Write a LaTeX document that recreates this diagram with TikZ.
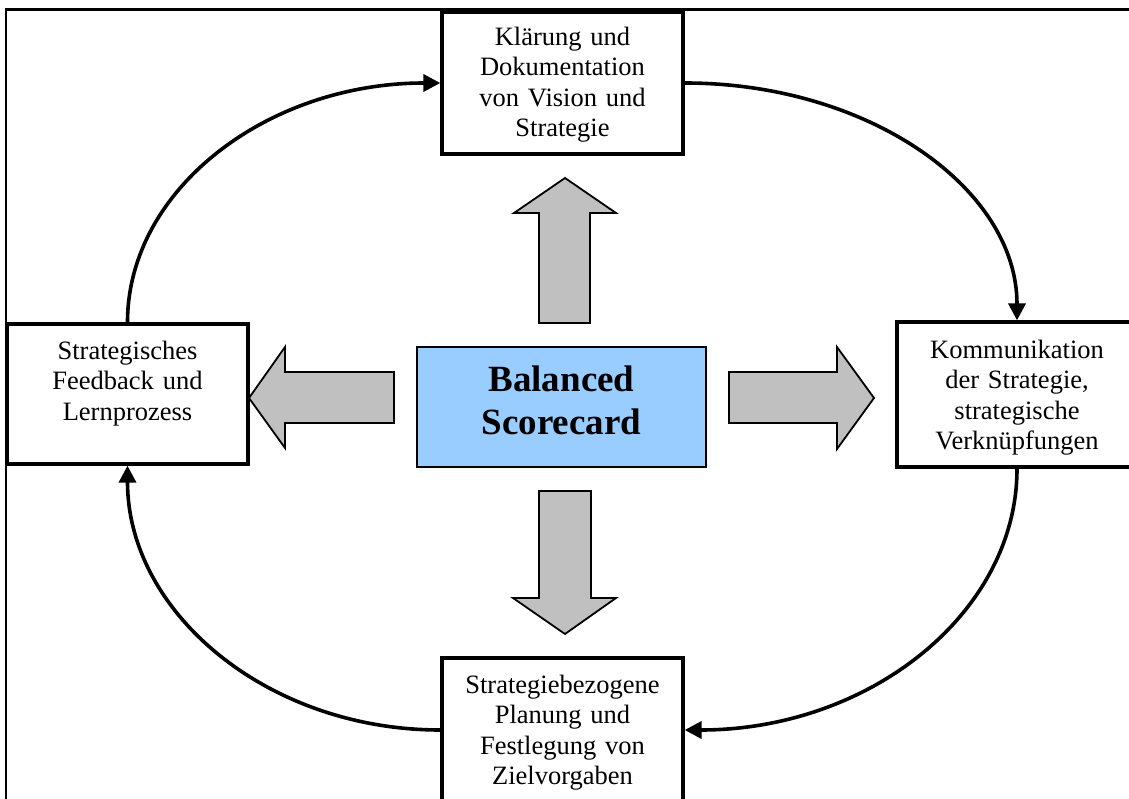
\documentclass[tikz,border=0pt]{standalone}
\usepackage{fontspec}
\setmainfont{Liberation Serif}
\usetikzlibrary{arrows.meta}
\definecolor{bscblue}{HTML}{99CCFF}
\definecolor{blockgray}{HTML}{C0C0C0}
\begin{document}
\begin{tikzpicture}[x=1pt,y=-1pt,
  box/.style={draw=black,line width=3.3pt,fill=white,inner sep=0pt,rectangle},
  boxtext/.style={inner sep=0pt,text width=236pt,align=center,anchor=base,
    font=\fontsize{26.5}{30.5}\selectfont},
  cycle/.style={draw=black,line width=3.6pt,-{Triangle[length=17pt,width=17pt]}},
  blockarrow/.style={draw=black,line width=1.8pt,fill=blockgray,line join=miter}
]
\useasboundingbox (0,0) rectangle (1129,799);
\clip (0,0) rectangle (1129,799);
\fill[white] (0,0) rectangle (1129,799);
% outer frame
\draw[line width=2.6pt] (6,9.5) rectangle (1145,815);

% boxes
\node[box,minimum width=241pt,minimum height=142pt] (T) at (562.5,83) {};
\node[box,minimum width=241pt,minimum height=140pt] (L) at (127.5,394) {};
\node[box,minimum width=240pt,minimum height=145pt] (R) at (1017,394.5) {};
\node[box,minimum width=241pt,minimum height=144pt] (B) at (562.5,730) {};
\node[draw=black,line width=2.8pt,fill=bscblue,inner sep=0pt,
      minimum width=289pt,minimum height=120pt] (C) at (561.5,407) {};

% texts
\node[boxtext] (Tt) at ([yshift=-35pt]T.north) {Klärung und\\Dokumentation\\von Vision und\\Strategie};
\node[boxtext] (Lt) at ([yshift=-37pt]L.north) {Strategisches\\Feedback und\\Lernprozess};
\node[boxtext] (Rt) at ([yshift=-38pt]R.north) {Kommunikation\\der Strategie,\\strategische\\Verknüpfungen};
\node[boxtext] (Bt) at ([yshift=-37pt]B.north) {Strategiebezogene\\Planung und\\Festlegung von\\Zielvorgaben};
\node[inner sep=0pt,text width=280pt,align=center,anchor=base,
      font=\bfseries\fontsize{37}{43}\selectfont] (Ct) at ([yshift=-46pt]C.north) {Balanced\\Scorecard};

% block arrows
\draw[blockarrow] (394,372) -- (285,372) -- (285,347) -- (249,398) -- (285,448) -- (285,423) -- (394,423) -- cycle;
\draw[blockarrow] (729,372) -- (837,372) -- (837,347) -- (874,398) -- (837,449) -- (837,423) -- (729,423) -- cycle;
\draw[blockarrow] (539,323) -- (539,213) -- (514,213) -- (565,178) -- (616,213) -- (590,213) -- (590,323) -- cycle;
\draw[blockarrow] (539,491) -- (539,598) -- (513,598) -- (565,634) -- (616,598) -- (591,598) -- (591,491) -- cycle;

% cycle connectors
\draw[cycle] (L.north) .. controls +(0,-133) and +(-173,0) .. (T.west);
\draw[cycle] (T.east) .. controls +(184,0) and +(0,-132) .. (R.north);
\draw[cycle] (R.south) .. controls +(0,145) and +(184,0) .. (B.east);
\draw[cycle] (B.west) .. controls +(-173,0) and +(0,147) .. (L.south);
\end{tikzpicture}
\end{document}
